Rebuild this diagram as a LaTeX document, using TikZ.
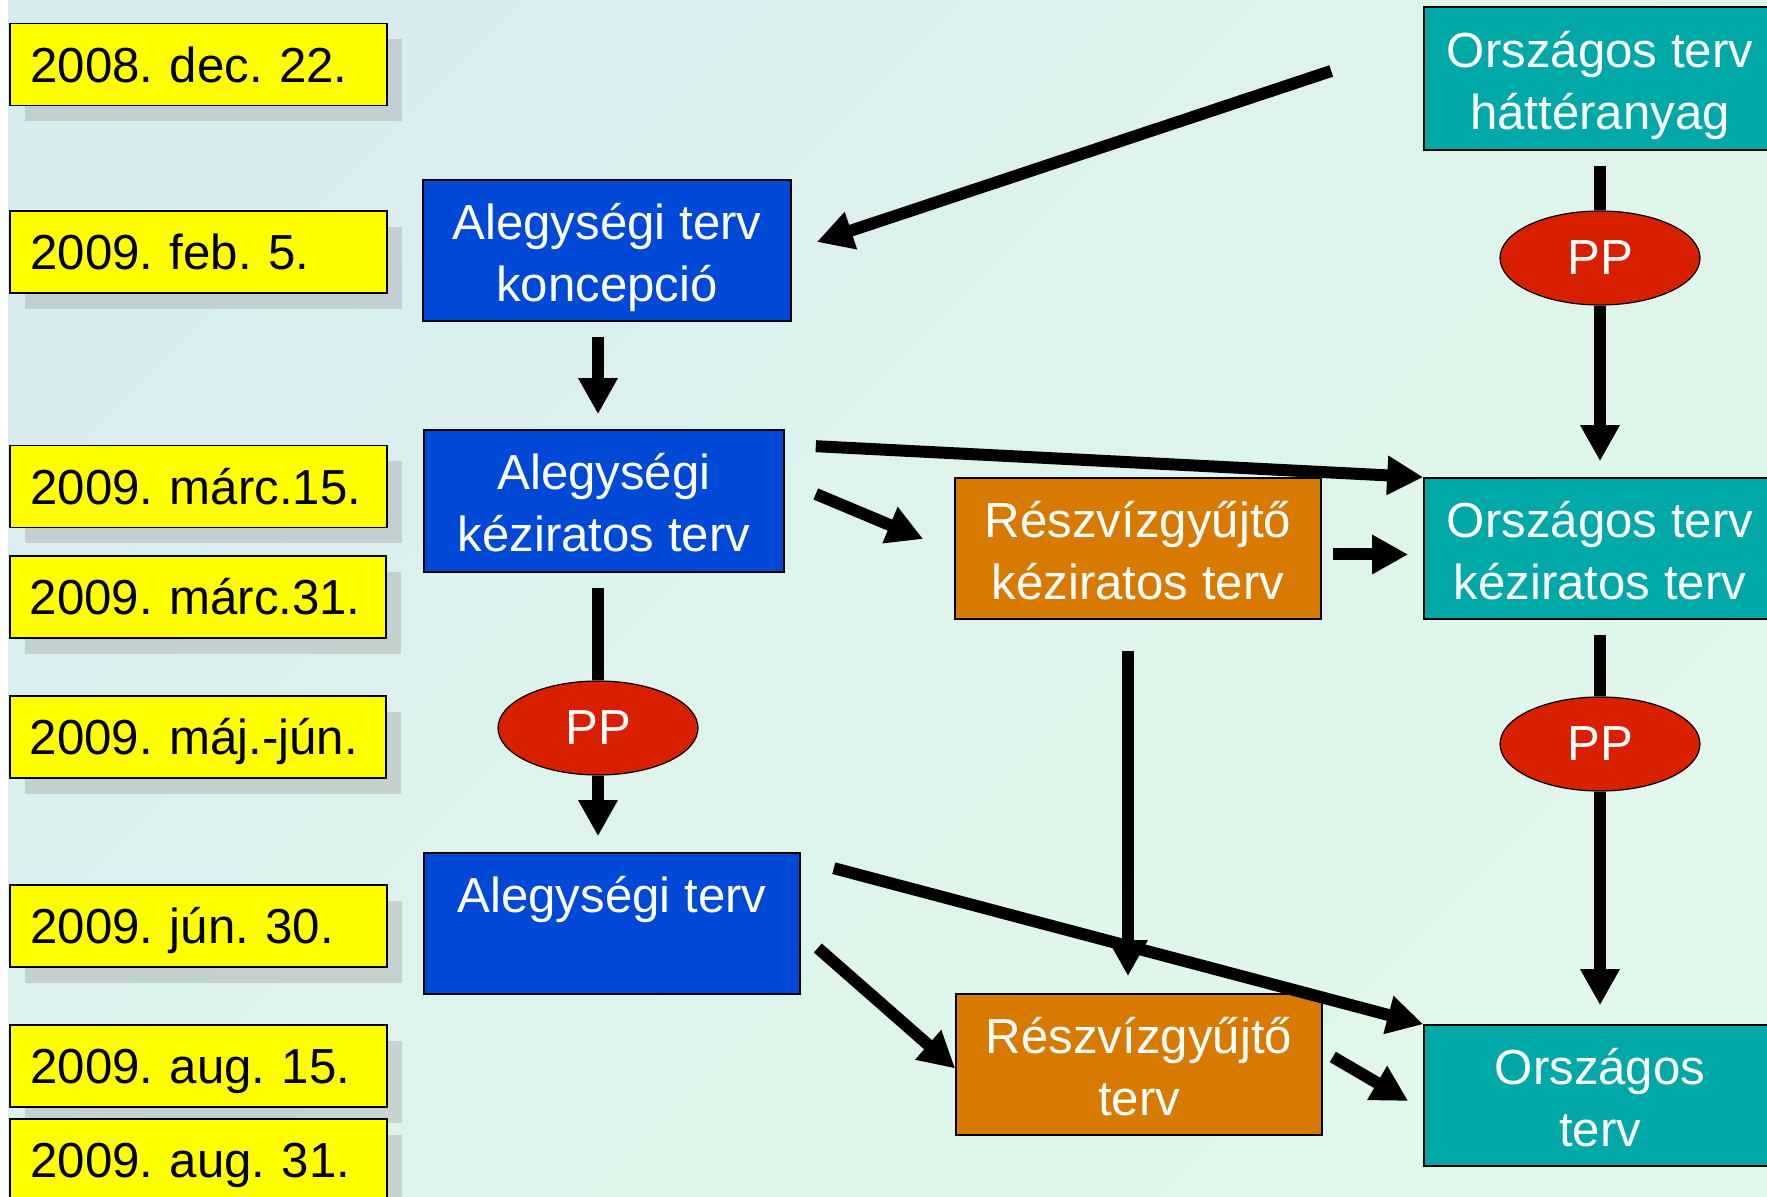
\documentclass[tikz,border=0pt]{standalone}
\usepackage{fontspec}
\setmainfont{Liberation Sans}
\usetikzlibrary{shapes.geometric}
\usetikzlibrary{arrows.meta}
\usetikzlibrary{shadows}

\definecolor{hatter1}{HTML}{D9EDF0}
\definecolor{hatter2}{HTML}{E0F7E9}
\definecolor{datumsarga}{HTML}{FFFF00}
\definecolor{alegkek}{HTML}{0048D6}
\definecolor{reszbarna}{HTML}{D87A00}
\definecolor{orszkek}{HTML}{00A8A8}
\definecolor{pppiros}{HTML}{D82000}

\begin{document}
\frenchspacing
\begin{tikzpicture}[x=0.5pt,y=-0.5pt,
        betu/.style={font=\fontsize{24.6pt}{31pt}\selectfont},
        datum/.style={betu,draw=black,line width=0.8pt,fill=datumsarga,anchor=west,
            minimum width=188.5pt,minimum height=41pt,inner xsep=10pt,inner ysep=0pt,
            text height=17.6pt,text depth=0pt,text width=168pt,align=left,
            drop shadow={shadow xshift=7.5pt,shadow yshift=-8pt,fill=black!40,opacity=0.35}},
        doboz/.style={betu,draw=black,line width=0.8pt,text=white,align=center,
            minimum height=70.5pt,inner sep=0pt,text height=56pt,text depth=5pt},
        pp/.style={betu,ellipse,draw=black,line width=0.6pt,fill=pppiros,text=white,
            minimum width=100pt,minimum height=47pt,inner sep=0pt},
        nyil/.style={line width=6pt,-{Triangle[length=18pt,width=18.5pt]}},
        szar/.style={line width=6pt}]

            %\draw [help lines] (0,0) grid (1767,1197);
            \useasboundingbox (0,0) rectangle (1767,1197);
            \clip (0,0) rectangle (1767,1197);
            \fill[white] (0,0) rectangle (1767,1197);
            \shade[top color=hatter1,bottom color=hatter2,middle color=hatter2!70!hatter1,shading angle=45]
                (8,0) rectangle (1767,1197);

            % datumok
            \path   (9,64.5)  node (d1) [datum] {2008. dec. 22.}
                    (9,252)   node (d2) [datum] {2009. feb. 5.}
                    (9,486.5) node (d3) [datum] {2009. márc.15.}
                    (9,597)   node (d4) [datum,minimum width=187pt] {2009. márc.31.}
                    (9,737)   node (d5) [datum,minimum width=185.5pt] {2009. máj.-jún.}
                    (9,926)   node (d6) [datum] {2009. jún. 30.}
                    (9,1066)  node (d7) [datum] {2009. aug. 15.}
                    (9,1160)  node (d8) [datum] {2009. aug. 31.};

            % tervek
            \path   (607,250.5)  node (konc)  [doboz,fill=alegkek,minimum width=184pt] {Alegységi terv\\koncepció}
                    (604,501)    node (kez)   [doboz,fill=alegkek,minimum width=180pt,minimum height=71pt] {Alegységi\\kéziratos terv}
                    (612,923.5)  node (aleg)  [doboz,fill=alegkek,minimum width=188pt] {Alegységi terv\\\phantom{x}}
                    (1138,548.5) node (rkez)  [doboz,fill=reszbarna,minimum width=183pt] {Részvízgyűjtő\\kéziratos terv}
                    (1139,1064.5) node (rterv) [doboz,fill=reszbarna,minimum width=183pt] {Részvízgyűjtő\\terv}
                    (1600,78.5)  node (hat)   [doboz,fill=orszkek,minimum width=176pt,minimum height=71.5pt] {Országos terv\\háttéranyag}
                    (1600,548.5) node (okez)  [doboz,fill=orszkek,minimum width=176pt] {Országos terv\\kéziratos terv}
                    (1600,1095.5) node (oterv) [doboz,fill=orszkek,minimum width=176pt] {Országos\\terv};

            \path   (1600,258) node (pp1) [pp] {PP}
                    (598,728)  node (pp2) [pp] {PP}
                    (1600,744) node (pp3) [pp] {PP};

            % nyilak
            \draw[nyil] ([xshift=-46pt,yshift=3.75pt]hat.west) -- ([xshift=12.5pt,yshift=4.25pt]konc.east);
            \draw[nyil,shorten <=7.5pt,shorten >=7.5pt] (konc.south -| pp2) -- (kez.north -| pp2);
            \draw[szar,shorten <=7.5pt] (hat.south) -- (pp1.north);
            \draw[nyil,shorten >=8pt] (pp1.south) -- (okez.north);
            \draw[nyil] ([xshift=15.5pt,yshift=-8.5pt]kez.north east) -- (okez.north west);
            \draw[nyil] ([xshift=15.5pt,yshift=3.5pt]kez.east) -- ([xshift=-15.5pt,yshift=4.75pt]rkez.west);
            \draw[nyil,shorten <=5.5pt,shorten >=7.5pt] ([yshift=-3pt]rkez.east) -- ([yshift=-3pt]okez.west);
            \draw[szar,shorten <=7.5pt] (kez.south -| pp2) -- (pp2.north);
            \draw[nyil,shorten >=8pt] (pp2.south) -- (aleg.north -| pp2);
            \draw[nyil,shorten <=15.5pt,shorten >=8.5pt] ([xshift=-5pt]rkez.south) -- ([xshift=-5.5pt]rterv.north);
            \draw[szar,shorten <=7.5pt] (okez.south) -- (pp3.north);
            \draw[nyil,shorten >=9.5pt] (pp3.south) -- (oterv.north);
            \draw[nyil] ([xshift=16.5pt,yshift=-8pt]aleg.north east) -- (oterv.north west);
            \draw[nyil] ([xshift=8.5pt,yshift=-12.25pt]aleg.east) -- ([yshift=-2pt]rterv.west);
            \draw[nyil] ([xshift=5pt,yshift=3.75pt]rterv.east) -- ([xshift=-7.5pt,yshift=-2.75pt]oterv.west);

\end{tikzpicture}
\end{document}
